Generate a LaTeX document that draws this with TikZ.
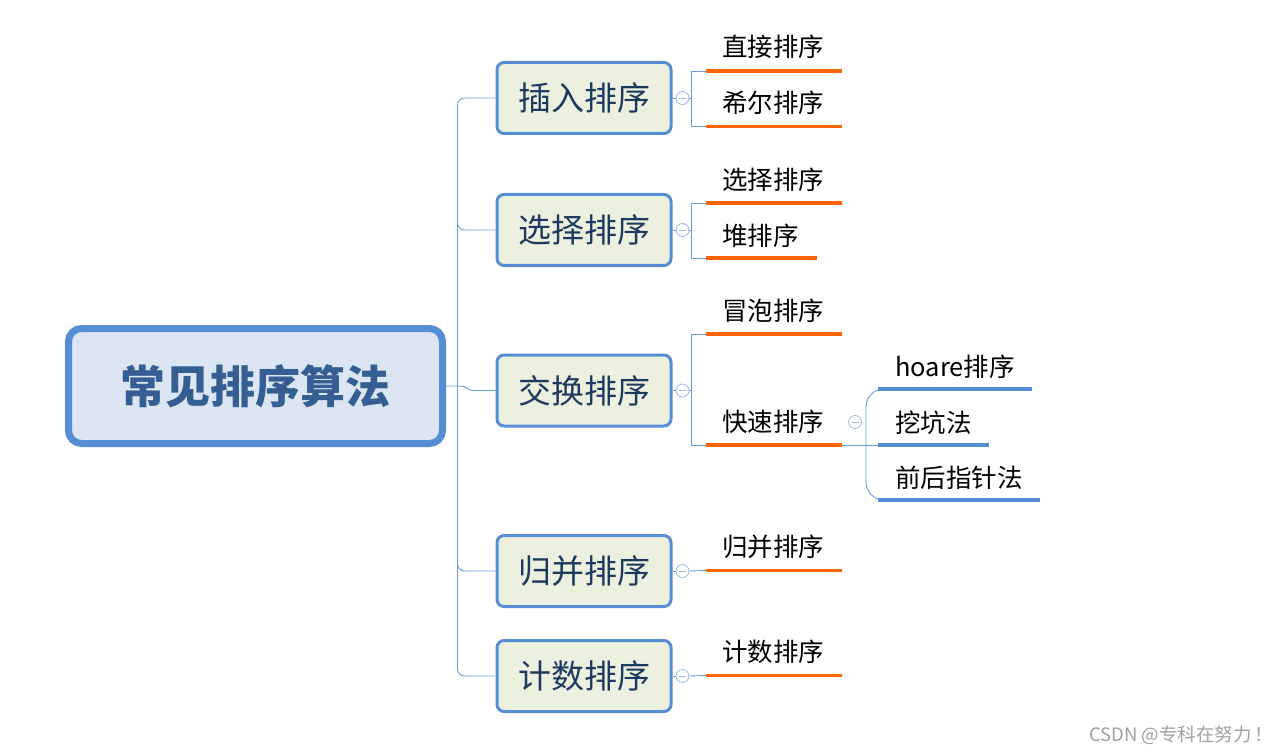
\documentclass[tikz,border=0pt]{standalone}
\usepackage{fontspec}
\setmainfont{Noto Sans CJK SC}
\usetikzlibrary{calc}
\definecolor{bdblue}{HTML}{558ED5}
\definecolor{lnblue}{HTML}{6A9BD8}
\definecolor{foldblue}{HTML}{9DB9E3}
\definecolor{rootfill}{HTML}{DCE6F2}
\definecolor{catfill}{HTML}{EBF1DE}
\definecolor{roottext}{HTML}{355F92}
\definecolor{cattext}{HTML}{1F3A60}
\definecolor{orange1}{HTML}{FF6600}
\definecolor{wmgray}{HTML}{A0A0A0}
\begin{document}
\begin{tikzpicture}[x=1pt,y=-1pt,
  rootbox/.style={draw=bdblue,line width=7pt,rounded corners=13pt,fill=rootfill,minimum width=374pt,minimum height=115pt,font=\fontsize{45}{50}\selectfont\bfseries,text=roottext,inner sep=0pt},
  catbox/.style={draw=bdblue,line width=3pt,rounded corners=7pt,fill=catfill,minimum width=174pt,minimum height=71pt,font=\fontsize{33}{36}\selectfont,text=cattext,inner sep=0pt},
  leaf/.style={anchor=west,inner sep=0pt,font=\fontsize{25.5}{28}\selectfont,text=black},
  conn/.style={draw=lnblue,line width=0.9pt},
  oline/.style={draw=orange1,line width=3.5pt},
  bline/.style={draw=bdblue,line width=3.5pt},
  fold/.style={circle,draw=foldblue,fill=white,minimum size=13pt,inner sep=0pt,line width=0.8pt,
    path picture={\draw[foldblue,line width=0.8pt] ([xshift=-3.5pt]path picture bounding box.center) -- ([xshift=3.5pt]path picture bounding box.center);}}
]
\useasboundingbox (0,0) rectangle (1288,754);

% root and categories
\node[rootbox] (root) at (255.5,386) {常见排序算法};
\node[catbox] (c1) at (584,98) {插入排序};
\node[catbox] (c2) at (584,230) {选择排序};
\node[catbox] (c3) at (584,390.5) {交换排序};
\node[catbox] (c4) at (584,571) {归并排序};
\node[catbox] (c5) at (584,676) {计数排序};

% trunk
\coordinate (tx) at (457.5,386);
\draw[conn,rounded corners=7pt] (c1.west) -- (c1.west -| tx) -- (c5.west -| tx) -- (c5.west);
\draw[conn,rounded corners=7pt] ($(c2.west -| tx)+(0,-15)$) |- (c2.west);
\draw[conn,rounded corners=7pt] ($(c4.west -| tx)+(0,-15)$) |- (c4.west);
\draw[conn] (root.east) -- ($(root.east -| tx)+(3,0)$) to[out=0,in=180] ($(c3.west)+(-22,0)$) -- (c3.west);

% fold circles
\node[fold] (f1) at (682.5,98) {};
\node[fold] (f2) at (682.5,230) {};
\node[fold] (f3) at (682.5,390.5) {};
\node[fold] (f4) at (682.5,571) {};
\node[fold] (f5) at (682.5,676) {};
\node[fold] (fq) at (855,422) {};
\foreach \i in {1,...,5} {\draw[conn] (c\i.east) -- (f\i.west);}

% bracket spines
\coordinate (kx) at (691.5,0);
\coordinate (qx) at (866,0);

% insertion
\coordinate (s11) at (706,71);  \coordinate (e11) at (842,71);
\coordinate (s12) at (706,126.5); \coordinate (e12) at (842,126.5);
\draw[conn] (f1.east) -- (f1.east -| kx);
\draw[conn] (s11) -- (s11 -| kx) -- (s12 -| kx) -- (s12);
\draw[oline] (s11) -- (e11);
\draw[oline] (s12) -- (e12);
\node[leaf] (t11) at (722,47) {直接排序};
\node[leaf] (t12) at (722,103) {希尔排序};

% selection
\coordinate (s21) at (706,203);  \coordinate (e21) at (842,203);
\coordinate (s22) at (706,258);  \coordinate (e22) at (817,258);
\draw[conn] (f2.east) -- (f2.east -| kx);
\draw[conn] (s21) -- (s21 -| kx) -- (s22 -| kx) -- (s22);
\draw[oline] (s21) -- (e21);
\draw[oline] (s22) -- (e22);
\node[leaf] (t21) at (722,180) {选择排序};
\node[leaf] (t22) at (722,236) {堆排序};

% exchange
\coordinate (s31) at (706,334);  \coordinate (e31) at (842,334);
\coordinate (s32) at (706,445);  \coordinate (e32) at (842,445);
\draw[conn] (f3.east) -- (f3.east -| kx);
\draw[conn] (s31) -- (s31 -| kx) -- (s32 -| kx) -- (s32);
\draw[oline] (s31) -- (e31);
\draw[oline] (s32) -- (e32);
\node[leaf] (t31) at (722,311) {冒泡排序};
\node[leaf] (t32) at (722,422) {快速排序};

% quick sort children
\coordinate (q1s) at (878,389); \coordinate (q1e) at (1032,389);
\coordinate (q2s) at (878,445); \coordinate (q2e) at (989,445);
\coordinate (q3s) at (878,500); \coordinate (q3e) at (1040,500);
\draw[conn] (e32) -- (q2s);
\draw[conn,rounded corners=18pt] (q1s) -| (e32 -| qx) |- (q3s);
\draw[bline] (q1s) -- (q1e);
\draw[bline] (q2s) -- (q2e);
\draw[bline] (q3s) -- (q3e);
\node[leaf] (tq1) at (895,367) {hoare排序};
\node[leaf] (tq2) at (895,423) {挖坑法};
\node[leaf] (tq3) at (895,478) {前后指针法};

% merge
\coordinate (s41) at (706,570.5); \coordinate (e41) at (842,570.5);
\draw[conn] (f4.east) -- (s41);
\draw[oline] (s41) -- (e41);
\node[leaf] (t41) at (722,547) {归并排序};

% counting
\coordinate (s51) at (706,675.5); \coordinate (e51) at (842,675.5);
\draw[conn] (f5.east) -- (s51);
\draw[oline] (s51) -- (e51);
\node[leaf] (t51) at (722,652) {计数排序};

% watermark
\node[anchor=west,inner sep=0pt,font=\fontsize{18.5}{20}\selectfont,text=wmgray] (wm) at (1089,735) {CSDN @专科在努力\,！};
\end{tikzpicture}
\end{document}
